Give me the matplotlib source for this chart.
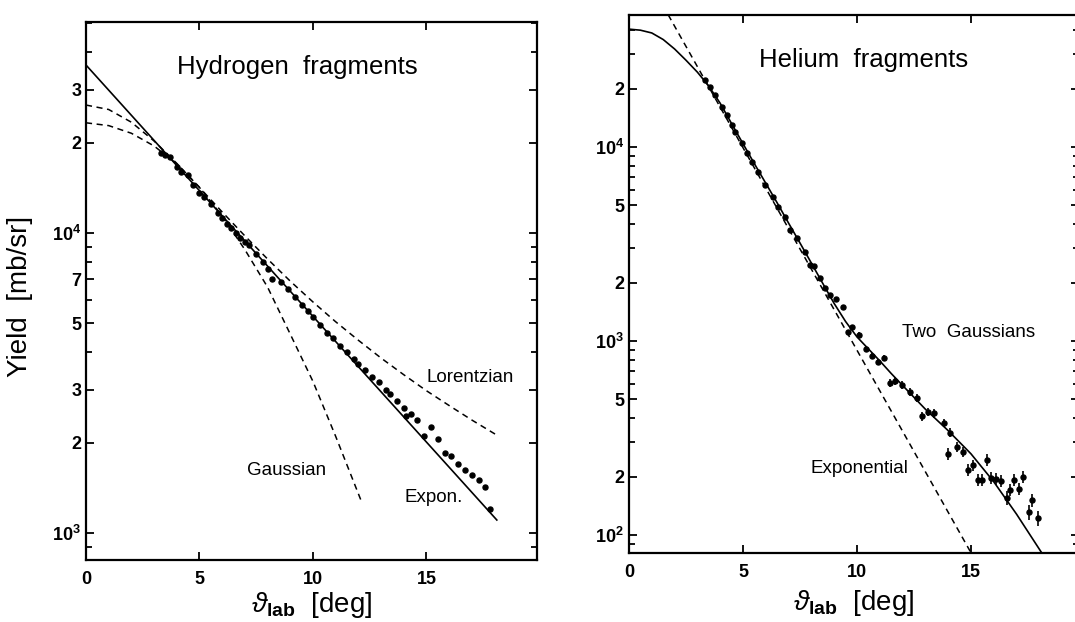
import matplotlib
matplotlib.use('Agg')
import matplotlib.pyplot as plt
from matplotlib.ticker import FixedLocator, FixedFormatter, NullFormatter

plt.rcParams['font.family'] = ['Liberation Sans', 'DejaVu Sans']
plt.rcParams['mathtext.fontset'] = 'custom'
plt.rcParams['mathtext.rm'] = 'Liberation Sans'
plt.rcParams['mathtext.bf'] = 'Liberation Sans:bold'
plt.rcParams['mathtext.it'] = 'Liberation Sans:italic'

# ---------------- Hydrogen fragments (left) ----------------
h_theta = [3.3, 3.5, 3.7, 4.0, 4.2, 4.5, 4.7, 5.0, 5.2, 5.5, 5.8, 6.0, 6.2, 6.4, 6.6,
           6.8, 7.0, 7.2, 7.5, 7.8, 8.0, 8.2, 8.6, 8.9, 9.2, 9.5, 9.8, 10.0, 10.3,
           10.6, 10.9, 11.2, 11.5, 11.8, 12.0, 12.3, 12.6, 12.9, 13.2, 13.4, 13.7,
           14.0, 14.1, 14.3, 14.6, 14.9, 15.2, 15.5, 15.8, 16.1, 16.4, 16.7, 17.0,
           17.3, 17.6, 17.8]
h_yield = [18500, 18200, 17900, 16600, 16000, 15600, 14400, 13600, 13200, 12500,
           11700, 11200, 10700, 10400, 10000, 9600, 9300, 9100, 8500, 8000, 7600,
           7000, 6850, 6500, 6100, 5750, 5500, 5250, 4950, 4650, 4480, 4200, 4000,
           3800, 3650, 3500, 3300, 3180, 3000, 2900, 2750, 2620, 2450, 2500, 2380,
           2100, 2250, 2050, 1850, 1800, 1700, 1620, 1560, 1500, 1420, 1200]

h_exp_theta = [0.0, 18.1]
h_exp_yield = [36300, 1105]

h_gauss_theta = [0, 1, 2, 3, 4, 5, 6, 7, 8, 9, 10, 11, 12.16]
h_gauss_yield = [23300, 22800, 21500, 19500, 17000, 14200, 11400, 8800, 6600,
                 4600, 3200, 2100, 1260]

h_lor_theta = [0, 1, 2, 3, 4, 5, 6, 7, 8, 9, 10, 11, 12, 13, 14, 15, 16, 17, 18.1]
h_lor_yield = [26700, 25800, 23400, 20260, 17060, 14180, 11750, 9780, 8190, 6910,
               5890, 5060, 4390, 3830, 3370, 2980, 2660, 2380, 2120]

h_ytick_vals = [1e3, 2e3, 3e3, 5e3, 7e3, 1e4, 2e4, 3e4]
h_ytick_text = [r'$\mathbf{10^3}$', '2', '3', '5', '7', r'$\mathbf{10^4}$', '2', '3']

# ---------------- Helium fragments (right) ----------------
he_theta = [3.33, 3.55, 3.77, 4.08, 4.3, 4.5, 4.65, 4.96, 5.17, 5.39, 5.66, 5.96,
            6.3, 6.55, 6.85, 7.06, 7.37, 7.73, 7.94, 8.1, 8.38, 8.6, 8.8, 9.1, 9.4,
            9.6, 9.78, 10.1, 10.4, 10.66, 10.92, 11.18, 11.45, 11.67, 11.97, 12.33,
            12.63, 12.85, 13.1, 13.4, 13.8, 14.0, 14.1, 14.4, 14.66, 14.87, 15.1,
            15.3, 15.5, 15.7, 15.9, 16.1, 16.3, 16.6, 16.7, 16.9, 17.1, 17.3, 17.55,
            17.7, 17.95]
he_yield = [22100, 20400, 18500, 16100, 14600, 13000, 11900, 10500, 9300, 8400,
            7400, 6400, 5500, 4900, 4360, 3730, 3390, 2880, 2470, 2440, 2110, 1880,
            1730, 1640, 1500, 1110, 1180, 1075, 910, 837, 781, 817, 608, 623, 593,
            546, 508, 410, 430, 424, 378, 262, 336, 284, 268, 216, 229, 192, 192,
            244, 197, 195, 190, 155, 171, 192, 173, 199, 131, 151, 122]
he_err = [0, 0, 0, 0, 0, 0, 0, 0, 0, 0, 0, 0, 0, 0, 0, 0, 0, 0, 0, 0, 0, 0,
          40, 40, 40, 35, 35, 35, 30, 30, 30, 30, 28, 28, 28, 26, 25, 22, 22, 22,
          20, 18, 18, 17, 17, 15, 15, 14, 14, 16, 14, 14, 14, 13, 13, 14, 13, 14,
          12, 12, 11]

he_twog_theta = [0, 0.5, 1, 1.5, 2, 2.5, 3, 3.5, 4, 4.5, 5, 5.5, 6, 6.5, 7, 7.5, 8,
                 8.5, 9, 9.5, 10, 10.5, 11, 11.5, 12, 13, 14, 15, 16, 17, 18.1]
he_twog_yield = [40500, 40000, 38700, 35800, 32000, 28000, 24300, 20600, 16800,
                 13200, 10400, 8200, 6500, 5150, 4050, 3200, 2520, 1980, 1560, 1260,
                 1050, 910, 790, 680, 590, 445, 345, 262, 188, 128, 81]

he_exp_theta = [1.72, 15.0]
he_exp_yield = [48000, 81]

he_ytick_vals = [1e2, 2e2, 5e2, 1e3, 2e3, 5e3, 1e4, 2e4]
he_ytick_text = [r'$\mathbf{10^2}$', '2', '5', r'$\mathbf{10^3}$', '2', '5',
                 r'$\mathbf{10^4}$', '2']

xtick_vals = [0, 5, 10, 15]
xtick_text = ['0', '5', '10', '15']

W, H = 1075, 622
fig = plt.figure(figsize=(W / 100, H / 100), dpi=100)

ax1 = fig.add_axes([86 / W, 1 - 560 / H, 451 / W, 538 / H])
ax2 = fig.add_axes([629 / W, 1 - 553 / H, 450 / W, 538 / H])


def style(ax, ylo, yhi, xhi, yvals, ytext, xpad):
    ax.set_yscale('log')
    ax.set_xlim(0, xhi)
    ax.set_ylim(ylo, yhi)
    ax.yaxis.set_major_locator(FixedLocator(yvals))
    ax.yaxis.set_major_formatter(FixedFormatter(ytext))
    minors = [m * 10 ** e for e in range(1, 6) for m in range(1, 10)]
    minors = [v for v in minors if ylo < v < yhi and v not in yvals]
    ax.yaxis.set_minor_locator(FixedLocator(minors))
    ax.yaxis.set_minor_formatter(NullFormatter())
    ax.xaxis.set_major_locator(FixedLocator(xtick_vals))
    ax.xaxis.set_major_formatter(FixedFormatter(xtick_text))
    ax.xaxis.set_minor_locator(FixedLocator([]))
    ax.tick_params(which='both', direction='in', top=True, right=True,
                   width=1.3, labelsize=13)
    ax.tick_params(which='major', length=6)
    ax.tick_params(which='minor', length=4)
    ax.tick_params(axis='x', pad=8)
    for lab in ax.get_xticklabels() + ax.get_yticklabels():
        lab.set_fontweight('bold')
    for sp in ax.spines.values():
        sp.set_linewidth(1.6)
    ax.set_xlabel(r'$\vartheta_{\mathbf{lab}}$  [deg]', fontsize=20, labelpad=xpad)


# Left panel
style(ax1, 813, 50500, 19.87, h_ytick_vals, h_ytick_text, 1)
ax1.plot(h_exp_theta, h_exp_yield, color='black', lw=1.2)
ax1.plot(h_gauss_theta, h_gauss_yield, color='black', lw=1.1, ls=(0, (4, 3)))
ax1.plot(h_lor_theta, h_lor_yield, color='black', lw=1.1, ls=(0, (4, 3)))
ax1.plot(h_theta, h_yield, 'o', color='black', ms=3.6)
ax1.set_ylabel('Yield  [mb/sr]', fontsize=20)
ax1.yaxis.set_label_coords(-0.118, 0.49)
ax1.text(9.3, 35700, 'Hydrogen  fragments', fontsize=18.5, ha='center', va='center')
ax1.text(15.0, 3310, 'Lorentzian', fontsize=13.5, ha='left', va='center')
ax1.text(7.1, 1610, 'Gaussian', fontsize=13.5, ha='left', va='center')
ax1.text(14.05, 1310, 'Expon.', fontsize=13.5, ha='left', va='center')

# Right panel
style(ax2, 80.7, 47900, 19.74, he_ytick_vals, he_ytick_text, 5)
ax2.plot(he_twog_theta, he_twog_yield, color='black', lw=1.2)
ax2.plot(he_exp_theta, he_exp_yield, color='black', lw=1.1, ls=(0, (4, 3)))
ax2.errorbar(he_theta, he_yield, yerr=he_err, fmt='o', color='black', ms=3.6,
             elinewidth=1.2, capsize=0)
ax2.text(10.3, 28000, 'Helium  fragments', fontsize=18.5, ha='center', va='center')
ax2.text(11.97, 1110, 'Two  Gaussians', fontsize=13.5, ha='left', va='center')
ax2.text(7.94, 221, 'Exponential', fontsize=13.5, ha='left', va='center')

fig.savefig('out.png', dpi=100)
